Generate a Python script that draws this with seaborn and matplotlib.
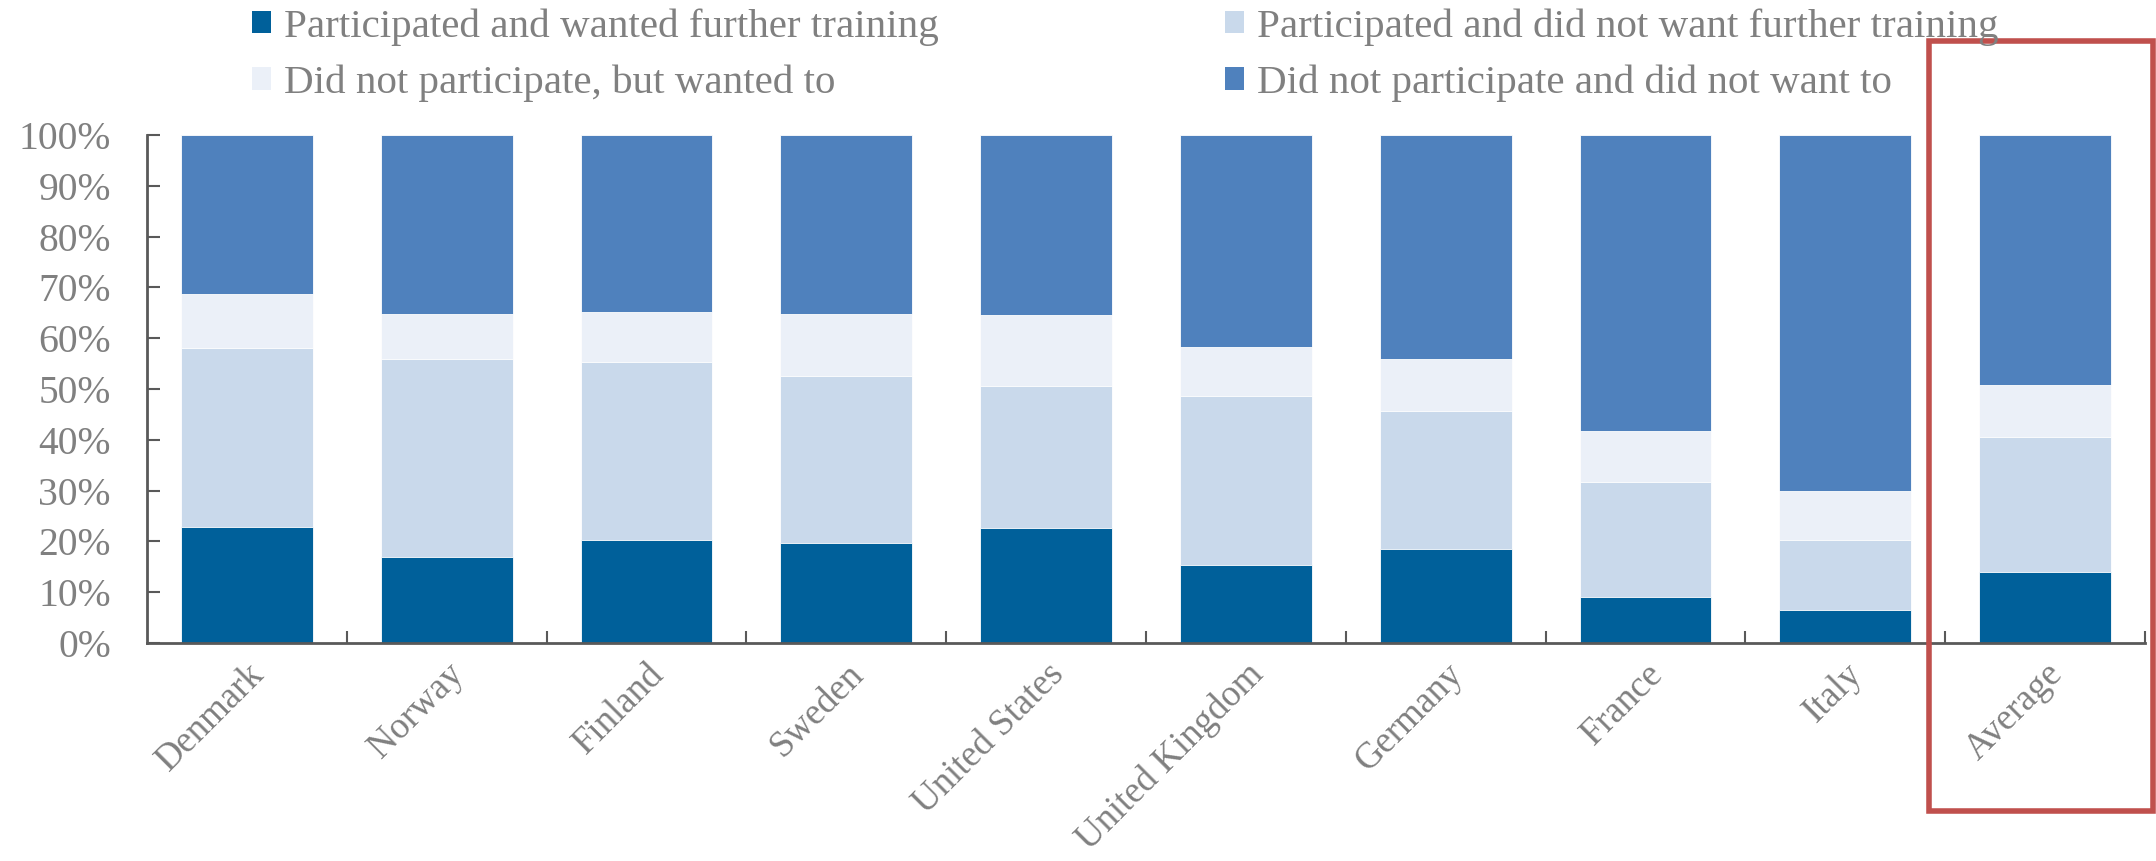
import numpy as np
import pandas as pd
import matplotlib
matplotlib.use('Agg')
import matplotlib.pyplot as plt
import seaborn as sns
from matplotlib.patches import Patch, Rectangle
from matplotlib.ticker import PercentFormatter, FixedLocator

# Dados (percentuais)
countries = ['Denmark', 'Norway', 'Finland', 'Sweden', 'United States',
             'United Kingdom', 'Germany', 'France', 'Italy', 'Average']
part_wanted = [22.8, 17.0, 20.2, 19.7, 22.7, 15.3, 18.5, 9.1, 6.4, 14.0]
part_not_wanted = [35.2, 38.9, 35.1, 32.8, 27.8, 33.3, 27.2, 22.5, 13.8, 26.5]
nopart_wanted = [10.7, 8.8, 9.8, 12.3, 14.0, 9.6, 10.3, 10.1, 9.7, 10.2]
nopart_not_wanted = [31.3, 35.3, 34.9, 35.2, 35.5, 41.8, 44.0, 58.3, 70.1, 49.3]

series_names = ['Participated and wanted further training',
                'Participated and did not want further training',
                'Did not participate, but wanted to',
                'Did not participate and did not want to']
colors = ['#00609A', '#C9D9EB', '#EBF0F8', '#4F81BD']

df = pd.DataFrame({'country': countries,
                   series_names[0]: part_wanted,
                   series_names[1]: part_not_wanted,
                   series_names[2]: nopart_wanted,
                   series_names[3]: nopart_not_wanted})
cum = df[series_names].cumsum(axis=1) / 100.0

sns.set_style('white')
plt.rcParams['font.family'] = ['Liberation Serif', 'DejaVu Serif']
text_color = '#808080'

fig = plt.figure(figsize=(21.56, 8.61), dpi=100)
ax = fig.add_axes([147/2156, 1 - 643/861, (2145 - 147)/2156, (643 - 135)/861])

# Barras empilhadas: desenha do total acumulado para o menor
for name, color in reversed(list(zip(series_names, colors))):
    sns.barplot(x=df['country'], y=cum[name], color=color, width=0.66,
                saturation=1, ax=ax, edgecolor='white', linewidth=0.6)

ax.set_ylim(0, 1)
ax.set_xlim(-0.5, len(countries) - 0.5)
ax.yaxis.set_major_locator(FixedLocator(np.arange(0, 1.01, 0.1)))
ax.yaxis.set_major_formatter(PercentFormatter(1.0, decimals=0))
ax.set_xlabel('')
ax.set_ylabel('')

for s in ['top', 'right']:
    ax.spines[s].set_visible(False)
for s in ['left', 'bottom']:
    ax.spines[s].set_color('#595959')
    ax.spines[s].set_linewidth(2)

ax.tick_params(axis='y', direction='in', length=9, width=1.5, color='#595959',
               labelsize=28.5, labelcolor=text_color, pad=26, left=True)
ax.set_xticks(range(len(countries)))
ax.set_xticklabels(countries, rotation=45, ha='right', rotation_mode='anchor')
ax.tick_params(axis='x', which='major', length=0, labelsize=26.5,
               labelcolor=text_color, pad=10)
ax.set_xticks(np.arange(0.5, len(countries), 1), minor=True)
ax.tick_params(axis='x', which='minor', direction='in', length=9, width=1.5,
               color='#595959', bottom=True)

# Legenda em duas colunas
handles = [Patch(facecolor=c, edgecolor='none') for c in colors]
order = [0, 2, 1, 3]
fig.legend([handles[i] for i in order], [series_names[i] for i in order],
           ncol=2, loc='upper left', bbox_to_anchor=(252/2156, 1 - 8/861),
           frameon=False, fontsize=29.5, labelcolor=text_color,
           handlelength=0.47, handleheight=0.47, handletextpad=0.3,
           columnspacing=7.0, labelspacing=0.47, borderpad=0.0,
           borderaxespad=0.0)

# Destaque da média
idx = countries.index('Average')
ax.add_patch(Rectangle((idx - 0.58, -0.33), 1.12, 1.515, fill=False,
                       edgecolor='#C0504D', linewidth=4, clip_on=False,
                       zorder=5))

fig.savefig('out.png', dpi=100)
